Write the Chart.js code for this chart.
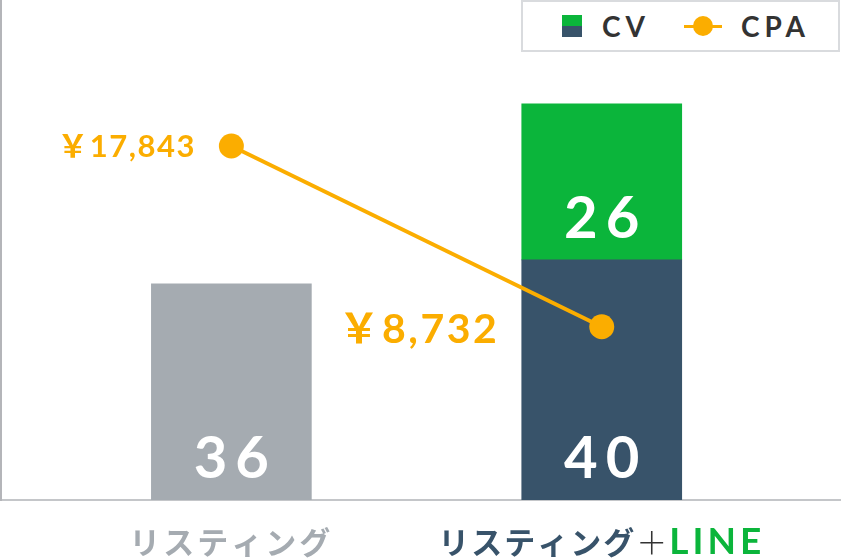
<!DOCTYPE html>
<html>
<head>
<meta charset="utf-8">
<title>CV・CPA</title>
<script src="https://cdn.jsdelivr.net/npm/chart.js"></script>
<style>
  body { margin: 0; background: #fff; }
  .wrap { position: relative; width: 841px; height: 559px; }
  #legend {
    position: absolute; left: 521px; top: 0; width: 315px; height: 48px;
    border: 2px solid #d9dbde; background: #fff;
    font-family: Lato, sans-serif; font-weight: 700; font-size: 28px;
    letter-spacing: 5px; color: #333;
  }
  #legend .item { position: absolute; top: 0; height: 48px; display: flex; align-items: center; }
  #legend .cv-icon { width: 20px; height: 22px; margin-right: 20px; }
  #legend .cpa-icon { position: relative; width: 38px; height: 22px; margin-right: 19px; }
  #legend .cpa-icon .ln { position: absolute; left: 0; right: 0; top: 10px; height: 3px; }
  #legend .cpa-icon .dot { position: absolute; left: 9px; top: 1px; width: 20px; height: 20px; border-radius: 50%; }
</style>
</head>
<body>
<div class="wrap">
  <canvas id="chart" width="841" height="559"></canvas>
  <div id="legend"></div>
</div>
<script>
// categories and values
const categories = ['リスティング', 'リスティング＋LINE'];
const cvBase = [36, 40];        // リスティング分のCV
const cvLine = [null, 26];      // LINE追加分のCV
const cpa = [17843, 8732];

const GRAY = '#a5abb1', NAVY = '#38536a', GREEN = '#0bb53b', ORANGE = '#fbad00';
const NUM_FONT = 'Lato, "Noto Sans CJK JP", sans-serif';

const labelPlugin = {
  id: 'valueLabels',
  afterDatasetsDraw(chart) {
    const ctx = chart.ctx;
    ctx.save();
    ctx.fillStyle = '#fff';
    ctx.textAlign = 'center';
    ctx.textBaseline = 'alphabetic';
    ctx.font = '700 58px ' + NUM_FONT;
    ctx.letterSpacing = '8px';
    [cvBase, cvLine].forEach((vals, di) => {
      chart.getDatasetMeta(di).data.forEach((bar, i) => {
        const v = vals[i];
        if (v == null) return;
        ctx.fillText(String(v), bar.x + 4, bar.base - 22);
      });
    });

    // CPA labels
    const styles = [{ size: 31, sp: 1.5, dx: -37, dy: 11 }, { size: 41, sp: 2.5, dx: -105, dy: 16 }];
    ctx.fillStyle = ORANGE;
    ctx.textAlign = 'right';
    chart.getDatasetMeta(2).data.forEach((pt, i) => {
      const s = styles[i];
      ctx.font = '700 ' + s.size + 'px ' + NUM_FONT;
      ctx.letterSpacing = s.sp + 'px';
      const txt = '￥' + cpa[i].toLocaleString('en-US');
      ctx.fillText(txt, pt.x + s.dx + s.sp, pt.y + s.dy);
    });

    // category labels
    const xs = chart.scales.x;
    ctx.textBaseline = 'middle';
    ctx.textAlign = 'left';
    const y = 542;
    const parts = [
      [{ t: 'リスティング', c: GRAY, f: '700 31px "Noto Sans CJK JP"', sp: 3 }],
      [{ t: 'リスティング', c: NAVY, f: '700 31px "Noto Sans CJK JP"', sp: 2 },
       { t: '＋', c: '#333', f: '300 31px "Noto Sans CJK JP"', sp: 2 },
       { t: 'LINE', c: GREEN, f: '700 37px Lato', sp: 4 }]
    ];
    categories.forEach((cat, i) => {
      const segs = parts[i];
      let total = 0;
      segs.forEach(s => { ctx.font = s.f; ctx.letterSpacing = s.sp + 'px'; s.w = ctx.measureText(s.t).width; total += s.w; });
      let x = xs.getPixelForValue(i) - total / 2;
      segs.forEach(s => {
        ctx.font = s.f; ctx.letterSpacing = s.sp + 'px'; ctx.fillStyle = s.c;
        ctx.fillText(s.t, x, y);
        x += s.w;
      });
    });
    ctx.restore();
  }
};

new Chart(document.getElementById('chart'), {
  data: {
    datasets: [
      {
        type: 'bar', label: 'CV', order: 1, grouped: false,
        data: cvBase.map((v, i) => ({ x: i, y: v })),
        backgroundColor: [GRAY, NAVY], barThickness: 160, yAxisID: 'y'
      },
      {
        type: 'bar', label: 'CV (LINE)', order: 1, grouped: false,
        data: cvLine.map((v, i) => ({ x: i, y: v })),
        backgroundColor: GREEN, barThickness: 160, yAxisID: 'y'
      },
      {
        type: 'line', label: 'CPA', order: 0,
        data: cpa.map((v, i) => ({ x: i, y: v })),
        borderColor: ORANGE, backgroundColor: ORANGE, borderWidth: 4,
        pointRadius: 12.5, pointBorderWidth: 0, pointHoverRadius: 12.5, yAxisID: 'y2'
      }
    ]
  },
  options: {
    responsive: false,
    animation: false,
    layout: { autoPadding: false, padding: { left: 1, top: 0, right: 0, bottom: 59 } },
    plugins: { legend: { display: false }, tooltip: { enabled: false } },
    scales: {
      x: {
        type: 'linear', bounds: 'data', offset: false, min: -0.622, max: 1.646,
        ticks: { display: false }, grid: { display: false, drawTicks: false },
        border: { color: '#c4c6c9', width: 2 }
      },
      y: {
        stacked: true, min: 0, max: 83.3,
        ticks: { display: false }, grid: { display: false, drawTicks: false },
        border: { color: '#b4b5b9', width: 2 }
      },
      y2: { display: false, min: 0, max: 25200 }
    }
  },
  plugins: [labelPlugin]
});

// legend
const legend = document.getElementById('legend');
legend.innerHTML =
  '<div class="item" style="left:39px"><div class="cv-icon" style="background:linear-gradient(' + GREEN + ' 50%,' + NAVY + ' 50%)"></div>CV</div>' +
  '<div class="item" style="left:161px"><div class="cpa-icon"><div class="ln" style="background:' + ORANGE + '"></div><div class="dot" style="background:' + ORANGE + '"></div></div>CPA</div>';
</script>
</body>
</html>
